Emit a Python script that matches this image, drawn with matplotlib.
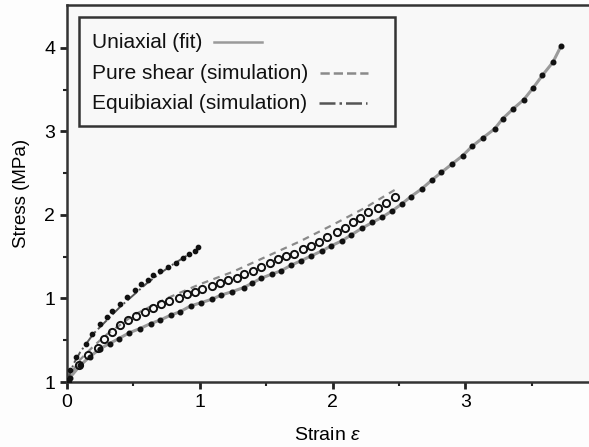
import numpy as np
import matplotlib
matplotlib.use('Agg')
import matplotlib.pyplot as plt
from matplotlib.patches import Rectangle

plt.rcParams['font.family'] = ['Liberation Sans', 'DejaVu Sans']
plt.rcParams['mathtext.fontset'] = 'custom'
plt.rcParams['mathtext.it'] = 'Liberation Sans:italic'

#----------------------------- DATA -----------------------------#

# uniaxial experiment (filled dots) + fit (grey solid)
uni_x = [0, 0.02, 0.10, 0.17, 0.25, 0.32, 0.39, 0.47, 0.55, 0.63, 0.70, 0.78, 0.85,
         0.93, 1.01, 1.09, 1.16, 1.24, 1.33, 1.39, 1.46, 1.54, 1.61, 1.69, 1.76,
         1.84, 1.92, 1.99, 2.07, 2.14, 2.22, 2.30, 2.37, 2.45, 2.52, 2.59, 2.67,
         2.75, 2.82, 2.90, 2.98, 3.05, 3.13, 3.22, 3.28, 3.36, 3.44, 3.51, 3.58,
         3.66, 3.72]
uni_y = [0, 0.05, 0.20, 0.30, 0.40, 0.46, 0.52, 0.59, 0.64, 0.70, 0.74, 0.80, 0.84,
         0.91, 0.95, 0.99, 1.04, 1.08, 1.13, 1.18, 1.24, 1.29, 1.33, 1.40, 1.45,
         1.51, 1.57, 1.63, 1.69, 1.76, 1.84, 1.91, 1.97, 2.05, 2.13, 2.22, 2.31,
         2.42, 2.51, 2.61, 2.71, 2.82, 2.92, 3.03, 3.15, 3.27, 3.38, 3.52, 3.67,
         3.83, 4.02]

# pure shear experiment (open circles)
ps_x = [0, 0.09, 0.16, 0.23, 0.28, 0.34, 0.40, 0.46, 0.52, 0.59, 0.65, 0.71, 0.77,
        0.84, 0.90, 0.96, 1.02, 1.09, 1.15, 1.21, 1.28, 1.33, 1.40, 1.46, 1.53,
        1.59, 1.65, 1.71, 1.78, 1.84, 1.90, 1.96, 2.03, 2.09, 2.15, 2.21, 2.27,
        2.34, 2.40, 2.47]
ps_y = [0, 0.20, 0.32, 0.41, 0.52, 0.60, 0.68, 0.74, 0.79, 0.84, 0.89, 0.93, 0.97,
        1.01, 1.05, 1.08, 1.11, 1.15, 1.18, 1.22, 1.25, 1.29, 1.33, 1.38, 1.43,
        1.47, 1.51, 1.53, 1.59, 1.63, 1.68, 1.73, 1.79, 1.84, 1.91, 1.96, 2.03,
        2.08, 2.14, 2.22]

# pure shear simulation (grey dashed)
ps_sim_x = [0, 0.05, 0.10, 0.20, 0.30, 0.50, 0.75, 1.00, 1.25, 1.50, 1.75, 2.00, 2.25, 2.50]
ps_sim_y = [0, 0.15, 0.27, 0.43, 0.57, 0.80, 1.00, 1.17, 1.32, 1.50, 1.68, 1.88, 2.09, 2.33]

# equibiaxial experiment (filled dots)
eb_x = [0, 0.02, 0.07, 0.14, 0.19, 0.25, 0.30, 0.34, 0.40, 0.45, 0.51, 0.56, 0.61,
        0.65, 0.70, 0.76, 0.82, 0.87, 0.92, 0.96, 0.99]
eb_y = [0, 0.14, 0.30, 0.46, 0.58, 0.70, 0.78, 0.85, 0.93, 1.02, 1.10, 1.17, 1.22,
        1.28, 1.33, 1.38, 1.43, 1.48, 1.53, 1.57, 1.61]

# equibiaxial simulation (dash-dot)
eb_sim_x = [0, 0.05, 0.10, 0.20, 0.30, 0.40, 0.50, 0.60, 0.70, 0.80, 0.90, 1.00]
eb_sim_y = [0, 0.22, 0.36, 0.58, 0.74, 0.90, 1.04, 1.18, 1.30, 1.41, 1.51, 1.60]

yticks = [0, 1, 2, 3, 4]
ytick_labels = ['1', '1', '2', '3', '4']
xticks = [0, 1, 2, 3]

legend_labels = ['Uniaxial (fit)', 'Pure shear (simulation)', 'Equibiaxial (simulation)']
legend_styles = ['-', '--', '-.']
legend_colors = ['#9a9a9a', '#8a8a8a', '#555555']

#----------------------------------------GRAPH STUFF---------------------------------------------------#

fig = plt.figure(figsize=(5.89, 4.47), dpi=100)
fig.patch.set_facecolor('#fdfdfd')
ax = fig.add_axes([0.1138, 0.1454, 0.886, 0.843])
ax.set_facecolor('#f8f8f8')

# simulation / fit lines
ax.plot(uni_x, uni_y, '-', color='#9a9a9a', lw=2.2, zorder=2)
ax.plot(ps_sim_x, ps_sim_y, '--', color='#8a8a8a', lw=1.6, dashes=(3, 2.5), zorder=2)
ax.plot(eb_sim_x, eb_sim_y, '-.', color='#555555', lw=1.4, zorder=2)

# experiments
ax.plot(uni_x, uni_y, 'o', color='#111111', ms=3.3, zorder=3)
ax.plot(ps_x, ps_y, 'o', mfc='none', mec='#111111', mew=1.4, ms=5.2, zorder=3)
ax.plot(eb_x, eb_y, 'o', color='#111111', ms=3.1, zorder=3)

ax.set_xlim(0, 3.93)
ax.set_ylim(0, 4.51)
ax.set_xticks(xticks)
ax.set_yticks(yticks)
ax.set_yticklabels(ytick_labels)
ax.set_xticks(np.arange(0.5, 4, 1.0), minor=True)
ax.set_yticks(np.arange(0.5, 4.5, 1.0), minor=True)
ax.tick_params(which='major', direction='out', length=5, width=2, labelsize=14, color='#222222')
ax.tick_params(which='minor', direction='out', length=3, width=1.5, color='#222222')

for side in ['left', 'bottom', 'top']:
    ax.spines[side].set_linewidth(1.8)
    ax.spines[side].set_color('#333333')
ax.spines['right'].set_visible(False)

ax.set_xlabel(r'Strain $\it{\varepsilon}$', fontsize=14, labelpad=12)
ax.set_ylabel('Stress (MPa)', fontsize=13.5, labelpad=10)

# legend box drawn by hand: text first, line sample right after the text
box = Rectangle((0.023, 0.679), 0.605, 0.289, transform=ax.transAxes,
                fill=False, lw=1.8, ec='#333333', zorder=5)
ax.add_patch(box)
rows_y = [0.902, 0.820, 0.740]
texts = []
for lab, yy in zip(legend_labels, rows_y):
    t = ax.text(0.048, yy, lab, transform=ax.transAxes, fontsize=15,
                va='center', ha='left', color='#111111', zorder=6)
    texts.append(t)
fig.canvas.draw()
inv = ax.transAxes.inverted()
for t, yy, ls, c in zip(texts, rows_y, legend_styles, legend_colors):
    bb = t.get_window_extent()
    x0 = inv.transform((bb.x1, 0))[0] + 0.022
    ax.plot([x0, x0 + 0.092], [yy, yy], ls=ls, color=c, lw=1.8,
            transform=ax.transAxes, clip_on=False, zorder=6)

plt.savefig('out.png', dpi=100, facecolor=fig.get_facecolor())
